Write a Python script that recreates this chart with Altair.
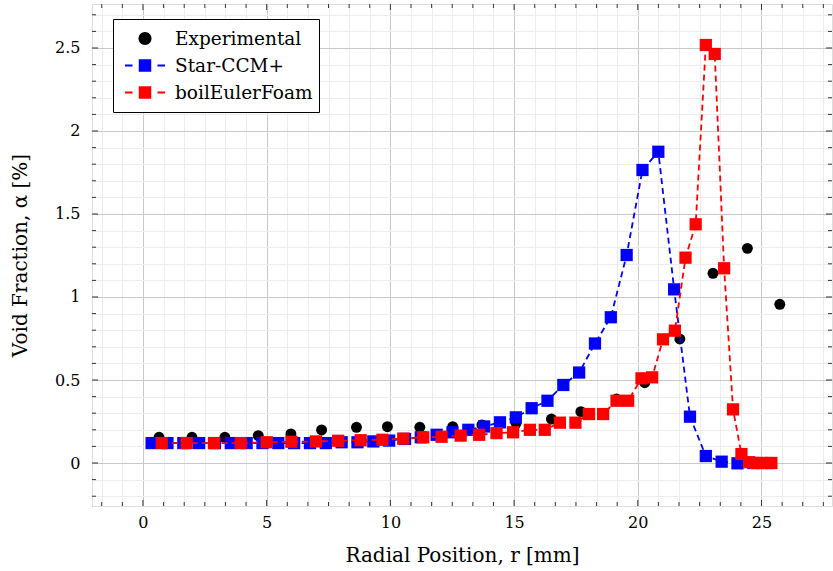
import altair as alt
import pandas as pd
import numpy as np

# ---------------- data ----------------
exp_r = [0.65, 1.98, 3.31, 4.66, 5.98, 7.22, 8.63, 9.88, 11.19, 12.52, 13.70, 15.08,
         16.51, 17.70, 19.14, 20.28, 21.70, 23.04, 24.43, 25.74]
exp_a = [0.155, 0.155, 0.155, 0.165, 0.175, 0.199, 0.215, 0.219, 0.215, 0.219, 0.229, 0.239,
         0.265, 0.309, 0.385, 0.484, 0.747, 1.143, 1.293, 0.956]

star_r = [0.35, 0.99, 1.63, 2.27, 2.91, 3.55, 4.19, 4.83, 5.47, 6.11, 6.75, 7.39, 8.03,
          8.67, 9.31, 9.95, 10.59, 11.23, 11.87, 12.51, 13.15, 13.79, 14.43, 15.07, 15.71,
          16.35, 16.99, 17.63, 18.27, 18.91, 19.55, 20.19, 20.83, 21.47, 22.11, 22.75,
          23.39, 24.03, 24.67]
star_a = [0.12, 0.12, 0.12, 0.12, 0.12, 0.12, 0.12, 0.12, 0.12, 0.12, 0.12, 0.12, 0.125,
          0.125, 0.13, 0.135, 0.145, 0.155, 0.17, 0.185, 0.2, 0.22, 0.245, 0.275, 0.33,
          0.375, 0.47, 0.545, 0.72, 0.878, 1.253, 1.765, 1.875, 1.046, 0.279, 0.042,
          0.008, -0.002, 0.0]

bef_r = [0.76, 1.77, 2.87, 3.95, 5.0, 6.0, 6.99, 7.89, 8.8, 9.68, 10.52, 11.33, 12.07,
         12.84, 13.59, 14.29, 14.96, 15.64, 16.24, 16.85, 17.48, 18.03, 18.6, 19.14, 19.61,
         20.15, 20.58, 21.02, 21.5, 21.93, 22.34, 22.75, 23.11, 23.49, 23.85, 24.19, 24.5,
         24.78, 25.02, 25.23, 25.4]
bef_a = [0.12, 0.12, 0.12, 0.12, 0.125, 0.128, 0.13, 0.134, 0.137, 0.14, 0.147, 0.155,
         0.158, 0.165, 0.17, 0.18, 0.185, 0.2, 0.2, 0.243, 0.243, 0.295, 0.295, 0.375,
         0.375, 0.51, 0.516, 0.745, 0.797, 1.237, 1.438, 2.518, 2.464, 1.173, 0.323,
         0.054, 0.005, 0.0, 0.0, 0.0, 0.0]

series_names = ["Experimental", "Star-CCM+", "boilEulerFoam"]
series_colors = ["#000000", "#0000ff", "#ff0000"]

x_major = [0, 5, 10, 15, 20, 25]
y_major = [0, 0.5, 1, 1.5, 2, 2.5]
x_minor = [round(k * 5 / 6, 4) for k in range(-2, 34) if k % 6 != 0]
y_minor = [round(k * 0.1, 4) for k in range(-2, 28) if k % 5 != 0]

# ---------------- layout ----------------
W, H = 740, 502
XDOM = [-2.06, 27.85]
YDOM = [-0.259, 2.765]
FONT = "DejaVu Serif"

xs = alt.Scale(domain=XDOM, nice=False, zero=False)
ys = alt.Scale(domain=YDOM, nice=False, zero=False)

exp_df = pd.DataFrame({"r": exp_r, "a": exp_a})
star_df = pd.DataFrame({"r": star_r, "a": star_a})
bef_df = pd.DataFrame({"r": bef_r, "a": bef_a})

x_axis = alt.Axis(
    values=sorted(x_major + x_minor), ticks=False, domain=False, grid=True,
    gridColor={"condition": {"test": "abs(datum.value - round(datum.value/5)*5) < 0.001", "value": "#c8c8c8"}, "value": "#ececec"},
    gridWidth=1,
    labelExpr="abs(datum.value - round(datum.value/5)*5) < 0.001 ? format(datum.value, '~g') : ''",
    labelFont=FONT, labelFontSize=16, labelColor="#000", labelPadding=8,
    title="Radial Position, r [mm]", titleFont=FONT, titleFontSize=20,
    titleFontWeight="normal", titleColor="#000", titlePadding=15,
)
y_axis = alt.Axis(
    values=sorted(y_major + y_minor), ticks=False, domain=False, grid=True,
    gridColor={"condition": {"test": "abs(datum.value - round(datum.value*2)/2) < 0.001", "value": "#c8c8c8"}, "value": "#ececec"},
    gridWidth=1,
    labelExpr="abs(datum.value - round(datum.value*2)/2) < 0.001 ? format(datum.value, '~g') : ''",
    labelFont=FONT, labelFontSize=16, labelColor="#000", labelPadding=12,
    title="Void Fraction, α [%]", titleFont=FONT, titleFontSize=20,
    titleFontWeight="normal", titleColor="#000", titlePadding=24,
)

def xq(f="r"):
    return alt.X(f + ":Q", scale=xs, axis=x_axis)

def yq(f="a"):
    return alt.Y(f + ":Q", scale=ys, axis=y_axis)

exp_layer = alt.Chart(exp_df).mark_circle(size=120, color="#000000", opacity=1).encode(x=xq(), y=yq())

dash = [6, 4]
star_line = alt.Chart(star_df).mark_line(color="#0000ff", strokeWidth=1.8, strokeDash=dash).encode(x=xq(), y=yq())
star_pts = alt.Chart(star_df).mark_point(shape="square", filled=True, size=150, color="#0000ff", opacity=1).encode(x=xq(), y=yq())
bef_line = alt.Chart(bef_df).mark_line(color="#ff0000", strokeWidth=1.8, strokeDash=dash).encode(x=xq(), y=yq())
bef_pts = alt.Chart(bef_df).mark_point(shape="square", filled=True, size=150, color="#ff0000", opacity=1).encode(x=xq(), y=yq())

# inward tick marks on all four sides
xmaj_df = pd.DataFrame({"r": x_major})
xmin_df = pd.DataFrame({"r": x_minor})
ymaj_df = pd.DataFrame({"a": y_major})
ymin_df = pd.DataFrame({"a": y_minor})
TC = "#333333"
ticks = []
for df, ln in [(xmaj_df, 6), (xmin_df, 4)]:
    ticks.append(alt.Chart(df).mark_rule(color=TC, strokeWidth=1).encode(x=xq(), y=alt.value(H), y2=alt.value(H - ln)))
    ticks.append(alt.Chart(df).mark_rule(color=TC, strokeWidth=1).encode(x=xq(), y=alt.value(0), y2=alt.value(ln)))
for df, ln in [(ymaj_df, 6), (ymin_df, 4)]:
    ticks.append(alt.Chart(df).mark_rule(color=TC, strokeWidth=1).encode(y=yq(), x=alt.value(0), x2=alt.value(ln)))
    ticks.append(alt.Chart(df).mark_rule(color=TC, strokeWidth=1).encode(y=yq(), x=alt.value(W), x2=alt.value(W - ln)))

# legend (symbols drawn as pgfplots-like "- marker -")
circ = "M0.25,0A0.25,0.25,0,1,1,-0.25,0A0.25,0.25,0,1,1,0.25,0Z"
sqd = ("M-0.77,-0.04H-0.48V0.04H-0.77Z "
       "M-0.24,-0.24H0.24V0.24H-0.24Z "
       "M0.48,-0.04H0.77V0.04H0.48Z")
leg_df = pd.DataFrame({"series": series_names, "r": [0, 0, 0], "a": [0, 0, 0]})
leg_kw = dict(
    title=None, orient="none", legendX=21, legendY=15,
    fillColor="white", strokeColor="#000",
    padding=6, symbolSize=2704, clipHeight=27, rowPadding=0, labelOffset=4,
    labelFont=FONT, labelFontSize=18.5, labelColor="#000", symbolStrokeWidth=0,
)
legend_layer = alt.Chart(leg_df).transform_filter("false").mark_point(
    filled=True, size=2704, opacity=1
).encode(
    x=xq(), y=yq(),
    color=alt.Color("series:N", scale=alt.Scale(domain=series_names, range=series_colors),
                    legend=alt.Legend(**leg_kw)),
    shape=alt.Shape("series:N", scale=alt.Scale(domain=series_names, range=[circ, sqd, sqd]),
                    legend=alt.Legend(**leg_kw)),
)

chart = alt.layer(
    *ticks, exp_layer, star_line, star_pts, bef_line, bef_pts, legend_layer
).properties(
    width=W, height=H,
    autosize=alt.AutoSizeParams(type="none"),
    padding={"left": 92, "top": 4, "right": 1, "bottom": 65},
).configure_view(
    stroke="#333333", strokeWidth=1
).configure_axis(
    labelFont=FONT, titleFont=FONT, labelFontSize=16, titleFontSize=20,
    titleFontWeight="normal", labelColor="#000", titleColor="#000",
).configure_legend(
    strokeWidth=1, cornerRadius=0, labelFont=FONT
).configure(background="white")

chart.save("out.html", embed_options={"renderer": "svg", "actions": False})
